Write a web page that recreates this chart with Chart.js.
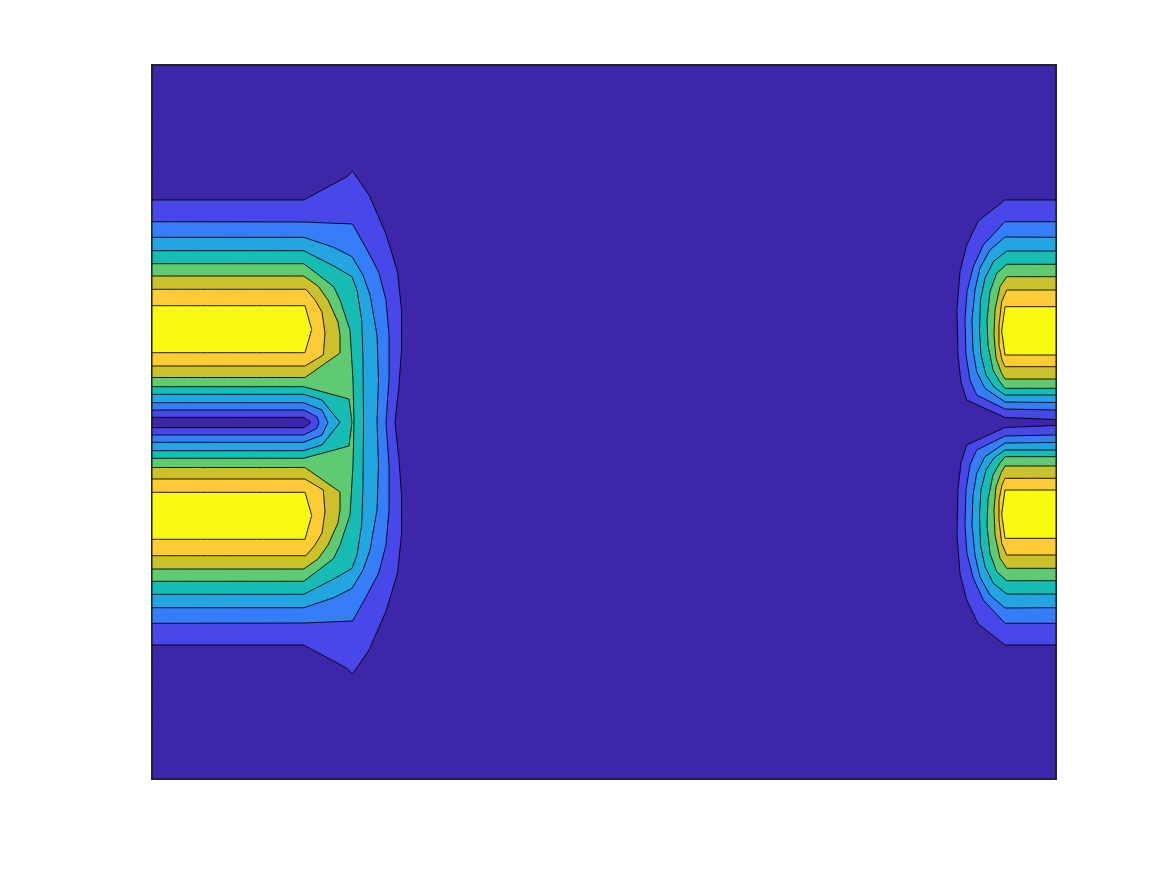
<!DOCTYPE html>
<html>
<head>
<meta charset="utf-8">
<script src="https://cdn.jsdelivr.net/npm/chart.js@4.4.1/dist/chart.umd.min.js"></script>
<style>
  html, body { margin: 0; padding: 0; background: #fff; }
  #wrap { width: 1167px; height: 875px; position: relative; }
</style>
</head>
<body>
<div id="wrap"><canvas id="contour"></canvas></div>
<script>
// axis extent of the grid
const xRange = [0, 90.4];
const yRange = [0, 71.4];

// parula colours for the 9 filled levels (lowest first)
const levelColors = ["#3E26A8", "#4848EA", "#367DFA", "#22A5E0", "#17BDB4", "#5ECA72", "#CBC12D", "#FDCB33", "#F8FA12"];

// level 1 covers the whole domain
const level1 = [[0, 0], [90.4, 0], [90.4, 71.4], [0, 71.4], [0, 0]];

// left block, levels 2-6 (one region with a notch in the middle)
const left2 = [[0, 57.9], [15.17, 57.9], [19.5, 60.23], [20.05, 60.8], [21.7, 58.4], [23.4, 54.5], [24.55, 50.7], [24.95, 46.9], [24.95, 42.9], [24.7, 39.4], [24.3, 35.65],
  [24.7, 31.9], [24.95, 28.4], [24.95, 24.4], [24.55, 20.6], [23.4, 16.8], [21.7, 12.9], [20.05, 10.5], [19.5, 11.07], [15.17, 13.4], [0, 13.4],
  [0, 35.13], [15.17, 35.13], [15.9, 35.65], [15.17, 36.17], [0, 36.17], [0, 57.9]];
const left3 = [[0, 55.73], [15.17, 55.7], [20.05, 55.5], [21.4, 53.1], [22.67, 50.7], [23.4, 47.9], [23.7, 44.4], [23.7, 39.9], [23.4, 35.65],
  [23.7, 31.4], [23.7, 26.9], [23.4, 23.4], [22.67, 20.6], [21.4, 18.2], [20.05, 15.8], [15.17, 15.6], [0, 15.57],
  [0, 34.4], [15.17, 34.4], [16.5, 35.07], [16.7, 35.65], [16.5, 36.23], [15.17, 36.9], [0, 36.9], [0, 55.73]];
const left4 = [[0, 54.17], [15.17, 54.17], [18.17, 53.17], [20, 52.23], [21.1, 50.4], [21.8, 48.4], [22.5, 44.4], [22.65, 39.9], [22.5, 35.65],
  [22.65, 31.4], [22.5, 26.9], [21.8, 22.9], [21.1, 20.9], [20, 19.07], [18.17, 18.13], [15.17, 17.13], [0, 17.13],
  [0, 33.67], [15.17, 33.67], [17, 34.4], [17.6, 35.65], [17, 36.9], [15.17, 37.63], [0, 37.63], [0, 54.17]];
const left5 = [[0, 52.83], [15.17, 52.83], [18.17, 51.3], [20, 50.23], [20.5, 48.9], [20.97, 45.9], [21.1, 41.9], [21.15, 35.65],
  [21.1, 29.4], [20.97, 25.4], [20.5, 22.4], [20, 21.07], [18.17, 20], [15.17, 18.47], [0, 18.47],
  [0, 32.83], [15.17, 32.83], [17, 33.4], [18.8, 35.65], [17, 37.9], [15.17, 38.47], [0, 38.47], [0, 52.83]];
const left6 = [[0, 51.53], [15.17, 51.53], [16.67, 50.4], [18.17, 49.23], [18.8, 47.9], [19.8, 44.9], [20.1, 39.9], [20.2, 35.65],
  [20.1, 31.4], [19.8, 26.4], [18.8, 23.4], [18.17, 22.07], [16.67, 20.9], [15.17, 19.77], [0, 19.77],
  [0, 32.07], [15.17, 32.07], [19.7, 33.3], [20, 35.65], [19.7, 38], [15.17, 39.23], [0, 39.23], [0, 51.53]];

// left block, levels 7-9 (two separate lobes)
const left7Upper = [[0, 50.3], [15.17, 50.3], [16.6, 49.3], [17.6, 47.9], [18.6, 45.7], [18.8, 44.4], [18.8, 42.6], [15.3, 40.15], [0, 40.15], [0, 50.3]];
const left7Lower = [[0, 21], [15.17, 21], [16.6, 22], [17.6, 23.4], [18.6, 25.6], [18.8, 26.9], [18.8, 28.7], [15.3, 31.15], [0, 31.15], [0, 21]];
const left8Upper = [[0, 48.97], [15.4, 48.97], [16.3, 47.9], [17, 46.7], [17.3, 44.6], [17.13, 42.4], [15.3, 41.3], [0, 41.3], [0, 48.97]];
const left8Lower = [[0, 22.33], [15.4, 22.33], [16.3, 23.4], [17, 24.6], [17.3, 26.7], [17.13, 28.9], [15.3, 30], [0, 30], [0, 22.33]];
const left9Upper = [[0, 47.33], [15.3, 47.33], [15.97, 44.95], [15.3, 42.63], [0, 42.63], [0, 47.33]];
const left9Lower = [[0, 23.97], [15.3, 23.97], [15.97, 26.35], [15.3, 28.67], [0, 28.67], [0, 23.97]];

// right block, two lobes per level
const right2Upper = [[90.4, 57.9], [85.3, 57.9], [82.63, 55.8], [81.47, 53.4], [80.8, 50.73], [80.5, 46.9], [80.6, 42.4], [80.9, 39.7], [81.47, 37.9], [85.3, 36.15], [90.4, 35.95], [90.4, 57.9]];
const right2Lower = [[90.4, 13.4], [85.3, 13.4], [82.63, 15.5], [81.47, 17.9], [80.8, 20.57], [80.5, 24.4], [80.6, 28.9], [80.9, 31.6], [81.47, 33.4], [85.3, 35.15], [90.4, 35.35], [90.4, 13.4]];
const right3Upper = [[90.4, 55.73], [85.3, 55.73], [83.13, 53.4], [82.13, 51.23], [81.5, 48.73], [81.3, 45.9], [81.4, 42.4], [81.8, 39.9], [82.47, 38.4], [85.3, 37], [90.4, 36.9], [90.4, 55.73]];
const right3Lower = [[90.4, 15.57], [85.3, 15.57], [83.13, 17.9], [82.13, 20.07], [81.5, 22.57], [81.3, 25.4], [81.4, 28.9], [81.8, 31.4], [82.47, 32.9], [85.3, 34.3], [90.4, 34.4], [90.4, 15.57]];
const right4Upper = [[90.4, 54.17], [85.3, 54.2], [83.8, 52.9], [82.8, 51.1], [82.3, 48.9], [82, 45.9], [82.1, 42.9], [82.47, 40.73], [83.3, 39.07], [85.3, 37.7], [90.4, 37.65], [90.4, 54.17]];
const right4Lower = [[90.4, 17.13], [85.3, 17.1], [83.8, 18.4], [82.8, 20.2], [82.3, 22.4], [82, 25.4], [82.1, 28.4], [82.47, 30.57], [83.3, 32.23], [85.3, 33.6], [90.4, 33.65], [90.4, 17.13]];
const right5Upper = [[90.4, 52.8], [85.47, 52.8], [84.13, 51.73], [83.3, 50.07], [82.85, 47.9], [82.75, 44.9], [82.9, 42.4], [83.4, 40.4], [84.2, 39.2], [85.3, 38.4], [90.4, 38.4], [90.4, 52.8]];
const right5Lower = [[90.4, 18.5], [85.47, 18.5], [84.13, 19.57], [83.3, 21.23], [82.85, 23.4], [82.75, 26.4], [82.9, 28.9], [83.4, 30.9], [84.2, 32.1], [85.3, 32.9], [90.4, 32.9], [90.4, 18.5]];
const right6Upper = [[90.4, 51.47], [85.47, 51.47], [84.47, 50.57], [83.8, 48.73], [83.5, 45.9], [83.6, 43.4], [84.1, 40.9], [84.8, 39.7], [85.3, 39.07], [90.4, 39.07], [90.4, 51.47]];
const right6Lower = [[90.4, 19.83], [85.47, 19.83], [84.47, 20.73], [83.8, 22.57], [83.5, 25.4], [83.6, 27.9], [84.1, 30.4], [84.8, 31.6], [85.3, 32.23], [90.4, 32.23], [90.4, 19.83]];
const right7Upper = [[90.4, 50.23], [85.47, 50.23], [84.8, 49.23], [84.3, 46.9], [84.2, 44.4], [84.4, 42.1], [84.9, 40.7], [85.3, 40], [90.4, 40], [90.4, 50.23]];
const right7Lower = [[90.4, 21.07], [85.47, 21.07], [84.8, 22.07], [84.3, 24.4], [84.2, 26.9], [84.4, 29.2], [84.9, 30.6], [85.3, 31.3], [90.4, 31.3], [90.4, 21.07]];
const right8Upper = [[90.4, 48.9], [85.47, 48.9], [84.97, 47.73], [84.7, 45.4], [84.7, 43.4], [85, 41.9], [85.3, 41.23], [90.4, 41.23], [90.4, 48.9]];
const right8Lower = [[90.4, 22.4], [85.47, 22.4], [84.97, 23.57], [84.7, 25.9], [84.7, 27.9], [85, 29.4], [85.3, 30.07], [90.4, 30.07], [90.4, 22.4]];
const right9Upper = [[90.4, 47.23], [85.3, 47.23], [84.97, 44.8], [85.3, 42.4], [90.4, 42.4], [90.4, 47.23]];
const right9Lower = [[90.4, 24.07], [85.3, 24.07], [84.97, 26.5], [85.3, 28.9], [90.4, 28.9], [90.4, 24.07]];

// polygons grouped by level, lowest first
const levelShapes = [
  [level1],
  [left2, right2Upper, right2Lower],
  [left3, right3Upper, right3Lower],
  [left4, right4Upper, right4Lower],
  [left5, right5Upper, right5Lower],
  [left6, right6Upper, right6Lower],
  [left7Upper, left7Lower, right7Upper, right7Lower],
  [left8Upper, left8Lower, right8Upper, right8Lower],
  [left9Upper, left9Lower, right9Upper, right9Lower],
];

const datasets = [];
levelShapes.forEach((shapes, level) => {
  shapes.forEach((pts) => {
    datasets.push({
      data: pts.map(([x, y]) => ({ x, y })),
      showLine: true,
      fill: "shape",
      backgroundColor: levelColors[level],
      borderColor: "#000000",
      borderWidth: 0.9,
      borderJoinStyle: "round",
      pointRadius: 0,
      pointHoverRadius: 0,
      // tiny tension keeps edges straight but avoids the fast path,
      // which doubles vertical segments
      tension: 0.0001,
      order: -datasets.length, // later (higher) levels on top
    });
  });
});

// plot box
const frame = {
  id: "frame",
  afterDraw(chart) {
    const { ctx, chartArea: a } = chart;
    ctx.save();
    ctx.strokeStyle = "#262626";
    ctx.lineWidth = 1;
    ctx.strokeRect(a.left - 0.5, a.top - 0.5, a.right - a.left + 1, a.bottom - a.top + 1);
    ctx.restore();
  },
};

new Chart(document.getElementById("contour"), {
  type: "scatter",
  data: { datasets },
  options: {
    responsive: true,
    maintainAspectRatio: false,
    animation: false,
    layout: { padding: { left: 152, top: 65, right: 111, bottom: 96 } },
    plugins: { legend: { display: false }, tooltip: { enabled: false } },
    events: [],
    scales: {
      x: { type: "linear", min: xRange[0], max: xRange[1], display: false },
      y: { type: "linear", min: yRange[0], max: yRange[1], display: false },
    },
  },
  plugins: [frame],
});
</script>
</body>
</html>
